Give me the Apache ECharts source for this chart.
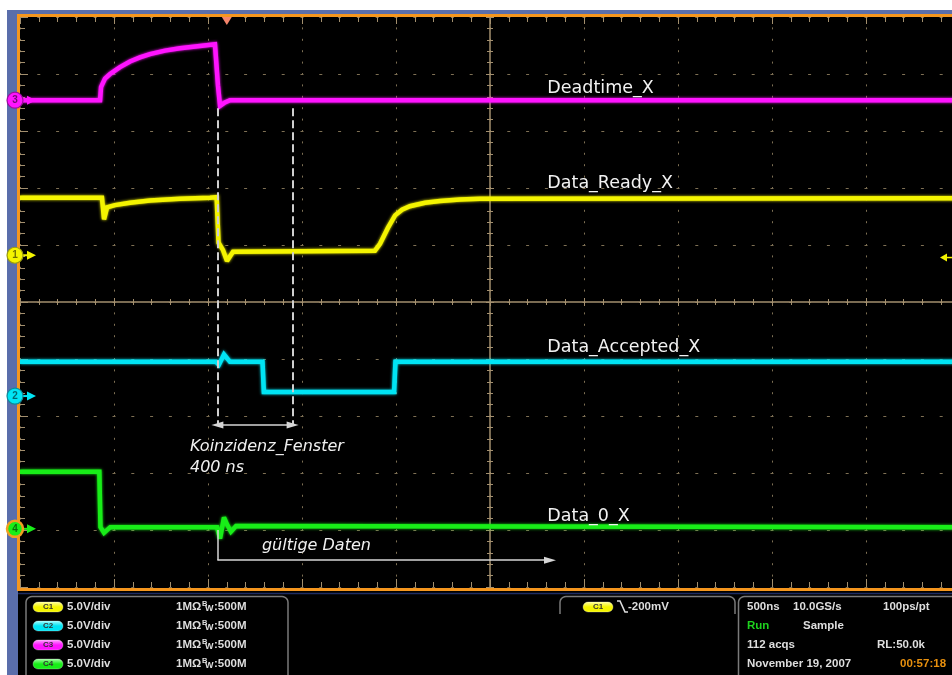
<!DOCTYPE html>
<html>
<head>
<meta charset="utf-8">
<script src="https://cdn.jsdelivr.net/npm/echarts@6/dist/echarts.min.js"></script>
<style>
  html, body { margin: 0; padding: 0; background: #fff; }
  #scope { width: 952px; height: 675px; }
</style>
</head>
<body>
<div id="scope"></div>
<script>
// Horizontal: ns from the left edge of the screen, 500 ns per division (10 divisions)
const timeMin = 0, timeMax = 5000, timePerDiv = 500;
// Vertical: screen divisions, centre line = 0
const divMin = -5, divMax = 5;

// C3  Deadtime_X
const deadtimeT = [0, 426, 431, 452, 479, 505, 532, 585, 638, 691, 771, 851, 957, 1037, 1046, 1053, 1064, 1090, 1117, 5000];
const deadtimeV = [3.54, 3.54, 3.77, 3.92, 4.00, 4.06, 4.12, 4.22, 4.29, 4.35, 4.41, 4.45, 4.49, 4.52, 4.52, 3.80, 3.44, 3.50, 3.54, 3.54];

// C1  Data_Ready_X
const readyT = [0, 436, 447, 463, 505, 585, 691, 851, 1011, 1046, 1056, 1080, 1101, 1133, 1888, 1915, 1957, 1995, 2032, 2074, 2154, 2234, 2340, 2447, 5000];
const readyV = [1.83, 1.83, 1.45, 1.66, 1.70, 1.74, 1.78, 1.81, 1.83, 1.84, 1.04, 0.91, 0.72, 0.88, 0.90, 1.02, 1.30, 1.52, 1.62, 1.68, 1.74, 1.77, 1.80, 1.81, 1.82];

// C2  Data_Accepted_X
const acceptedT = [0, 1043, 1058, 1085, 1117, 1290, 1297, 1990, 1997, 5000];
const acceptedV = [-1.05, -1.05, -1.10, -0.92, -1.05, -1.05, -1.58, -1.58, -1.05, -1.05];

// C4  Data_0_X
const data0T = [0, 422, 428, 447, 480, 1048, 1064, 1085, 1101, 1122, 1149, 5000];
const data0V = [-2.98, -2.98, -3.95, -4.05, -3.95, -3.95, -4.15, -3.78, -3.90, -4.03, -3.93, -3.95];

// Channel settings
const channelIds = ['C1', 'C2', 'C3', 'C4'];
const channelScales = ['5.0V/div', '5.0V/div', '5.0V/div', '5.0V/div'];
const channelGround = [0.82, -1.65, 3.54, -3.98];     // ground markers, divisions
const traceNames = ['Data_Ready_X', 'Data_Accepted_X', 'Deadtime_X', 'Data_0_X'];

// Trigger: C1 falling edge at -200 mV, 5 V/div
const triggerTime = 1100;
const triggerLevelDiv = channelGround[0] - 0.2 / 5;

// Coincidence window and valid-data marker
const windowStart = 1050;
const windowLength = 400;   // "400 ns"
const windowEnd = windowStart + windowLength;
const validDataEnd = 2819;

const colors = { C1: '#f4f400', C2: '#00e4f4', C3: '#ff14ff', C4: '#18ee18' };
const tan = '#a38f6e';
const dotTan = '#7e7054';

const pairs = (t, v) => t.map((x, i) => [x, v[i]]);

function xAxisCfg(extra) {
  return Object.assign({
    type: 'value', min: timeMin, max: timeMax, interval: timePerDiv,
    axisLabel: { show: false }, splitLine: { show: false },
    axisLine: { show: false, onZero: false },
    axisTick: { show: false }, minorTick: { show: false }
  }, extra);
}
function yAxisCfg(extra) {
  return Object.assign({
    type: 'value', min: divMin, max: divMax, interval: 1,
    axisLabel: { show: false }, splitLine: { show: false },
    axisLine: { show: false, onZero: false },
    axisTick: { show: false }, minorTick: { show: false }
  }, extra);
}
const tick = (len, inside) => ({ show: true, inside: inside, length: len, lineStyle: { color: tan, width: 1 } });
const minor = (len) => ({ show: true, splitNumber: 5, length: len, lineStyle: { color: tan, width: 1 } });

function trace(name, t, v, color) {
  return {
    name: name, type: 'line', data: pairs(t, v), xAxisIndex: 0, yAxisIndex: 0,
    showSymbol: false, symbol: 'none', animation: false, silent: true,
    lineStyle: { color: color, width: 4.5, shadowColor: color, shadowBlur: 3, join: 'miter', miterLimit: 2 }
  };
}

const arrowLine = { color: '#d6d6d6', width: 1.5, type: 'solid' };

const option = {
  backgroundColor: '#000',
  animation: false,
  grid: { left: 20, top: 17, width: 940, height: 570, containLabel: false, outerBoundsMode: 'none' },
  xAxis: [
    // bottom edge ticks + vertical dotted grid
    xAxisCfg({ position: 'bottom', axisTick: tick(8, true), minorTick: minor(5),
      splitLine: { show: true, lineStyle: { color: dotTan, width: 1, type: [2, 9.4], dashOffset: 1 } } }),
    // top edge ticks
    xAxisCfg({ position: 'top', axisTick: tick(7, true), minorTick: minor(5) }),
    // centre horizontal line with crossing ticks
    xAxisCfg({ position: 'bottom', offset: -285, axisLine: { show: true, onZero: false, lineStyle: { color: tan, width: 1.5 } },
      axisTick: tick(4, false), minorTick: minor(3) }),
    xAxisCfg({ position: 'bottom', offset: -285, axisTick: tick(4, true), minorTick: minor(3) })
  ],
  yAxis: [
    // left edge ticks + horizontal dotted grid
    yAxisCfg({ position: 'left', axisTick: tick(8, true), minorTick: minor(5),
      splitLine: { show: true, lineStyle: { color: dotTan, width: 1, type: [3, 15.8], dashOffset: 1.5 } } }),
    // centre vertical line with crossing ticks
    yAxisCfg({ position: 'left', offset: -470, axisLine: { show: true, onZero: false, lineStyle: { color: tan, width: 1.5 } },
      axisTick: tick(4, false), minorTick: minor(3) }),
    yAxisCfg({ position: 'left', offset: -470, axisTick: tick(4, true), minorTick: minor(3) })
  ],
  series: [
    trace('Deadtime_X', deadtimeT, deadtimeV, colors.C3),
    trace('Data_Ready_X', readyT, readyV, colors.C1),
    trace('Data_Accepted_X', acceptedT, acceptedV, colors.C2),
    trace('Data_0_X', data0T, data0V, colors.C4),
    {
      name: 'annotations', type: 'line', data: [], xAxisIndex: 0, yAxisIndex: 0, silent: true, animation: false,
      markLine: {
        silent: true, animation: false, symbol: ['none', 'none'],
        label: { show: false },
        lineStyle: { color: '#cfcfcf', width: 2, type: [8, 4] },
        data: [
          // coincidence window cursors
          [{ coord: [windowStart, 3.40] }, { coord: [windowStart, -2.16] }],
          [{ coord: [windowEnd, 3.40] }, { coord: [windowEnd, -2.16] }],
          // window width arrow
          [{ coord: [windowStart, -2.16], symbol: 'triangle', symbolSize: [7, 12], lineStyle: arrowLine },
           { coord: [windowEnd, -2.16], symbol: 'triangle', symbolSize: [7, 12] }],
          // valid data arrow
          [{ coord: [windowStart, -4.0], lineStyle: arrowLine }, { coord: [windowStart, -4.53] }],
          [{ coord: [windowStart, -4.53], lineStyle: arrowLine },
           { coord: [validDataEnd, -4.53], symbol: 'triangle', symbolSize: [7, 12] }]
        ]
      }
    }
  ]
};

const chart = echarts.init(document.getElementById('scope'), null, { renderer: 'canvas', width: 952, height: 675 });
chart.setOption(option);

const px = (t, v) => chart.convertToPixel({ seriesIndex: 0 }, [t, v]);
const g = [];
const txt = (text, x, y, fill, font) => g.push({
  type: 'text', z: 60, silent: true,
  style: { text: text, x: x, y: y, fill: fill, font: font, align: 'left', verticalAlign: 'middle' }
});

// Instrument frame
g.push({ type: 'rect', z: 50, silent: true, shape: { x: 0, y: 0, width: 952, height: 10 }, style: { fill: '#fff' } });
g.push({ type: 'rect', z: 50, silent: true, shape: { x: 0, y: 0, width: 7, height: 675 }, style: { fill: '#fff' } });
g.push({ type: 'rect', z: 50, silent: true, shape: { x: 7, y: 10, width: 945, height: 5 }, style: { fill: '#5a6eab' } });
g.push({ type: 'rect', z: 50, silent: true, shape: { x: 7, y: 10, width: 11, height: 665 }, style: { fill: '#5a6eab' } });
g.push({ type: 'rect', z: 51, silent: true, shape: { x: 18.5, y: 15.5, width: 950, height: 574 },
  style: { fill: null, stroke: '#f5961e', lineWidth: 3 } });
g.push({ type: 'line', z: 51, silent: true, shape: { x1: 18, y1: 593.5, x2: 952, y2: 593.5 }, style: { stroke: '#1e2c62', lineWidth: 1.5 } });

// Trace names
const labelTime = 2805;
const labelLevels = [2.08, -0.80, 3.75, -3.76];
traceNames.forEach((name, i) => {
  const p = px(labelTime, labelLevels[i]);
  txt(name, p[0], p[1], '#f2f2f2', '17.5px "DejaVu Sans"');
});

// Annotation texts
let p = px(904, -2.54);
txt('Koinzidenz_Fenster', p[0], p[1], '#f0f0f0', 'italic 16px "DejaVu Sans"');
p = px(904, -2.91);
txt('400 ns', p[0], p[1], '#f0f0f0', 'italic 16px "DejaVu Sans"');
p = px(1287, -4.28);
txt('gültige Daten', p[0], p[1], '#f0f0f0', 'italic 16px "DejaVu Sans"');

// Channel ground markers on the left edge
const markerColors = [colors.C1, colors.C2, colors.C3, colors.C4];
const markerRings = ['#9a9a10', '#108a98', '#9a109a', '#f0a020'];
channelGround.forEach((lvl, i) => {
  const y = px(0, lvl)[1];
  g.push({ type: 'line', z: 61, silent: true, shape: { x1: 20, y1: y, x2: 28, y2: y }, style: { stroke: markerColors[i], lineWidth: 2 } });
  g.push({ type: 'polygon', z: 61, silent: true, shape: { points: [[27, y - 4.5], [36, y], [27, y + 4.5]] }, style: { fill: markerColors[i] } });
  g.push({ type: 'circle', z: 62, silent: true, shape: { cx: 15, cy: y, r: 8 },
    style: { fill: markerColors[i], stroke: markerRings[i], lineWidth: i === 3 ? 2.5 : 1.2 } });
  g.push({ type: 'text', z: 63, silent: true,
    style: { text: channelIds[i].slice(1), x: 15, y: y, fill: 'rgba(0,0,0,0.55)', font: 'bold 10px "Liberation Sans"', align: 'center', verticalAlign: 'middle' } });
});

// Trigger position (top) and trigger level (right)
const tx = px(triggerTime, 0)[0];
g.push({ type: 'polygon', z: 61, silent: true, shape: { points: [[tx - 5, 17], [tx + 5, 17], [tx, 25]] }, style: { fill: '#f4846a' } });
const ty = px(0, triggerLevelDiv)[1];
g.push({ type: 'polygon', z: 61, silent: true, shape: { points: [[940, ty], [947, ty - 4], [947, ty + 4]] }, style: { fill: colors.C1 } });
g.push({ type: 'line', z: 61, silent: true, shape: { x1: 946, y1: ty, x2: 952, y2: ty }, style: { stroke: colors.C1, lineWidth: 1.5 } });

// Bottom information panels (open-bottom boxes with rounded top corners)
const boxStroke = '#7a7a7a';
function openBox(x1, x2, top, bottom) {
  const r = 6, pts = [[x1, bottom]];
  for (let k = 0; k <= 6; k++) {
    const a = Math.PI - (k / 6) * Math.PI / 2;
    pts.push([x1 + r + r * Math.cos(a), top + r - r * Math.sin(a)]);
  }
  for (let k = 0; k <= 6; k++) {
    const a = Math.PI / 2 - (k / 6) * Math.PI / 2;
    pts.push([x2 - r + r * Math.cos(a), top + r - r * Math.sin(a)]);
  }
  pts.push([x2, bottom]);
  g.push({ type: 'polyline', z: 55, silent: true, shape: { points: pts }, style: { fill: null, stroke: boxStroke, lineWidth: 1.5 } });
}
openBox(26, 288, 596.5, 690);
openBox(560, 735, 596.5, 614);
openBox(738.5, 975, 596.5, 690);

const infoFont = 'bold 11.5px "Liberation Sans"';
const infoColor = '#dedede';
const pillTop = ['#ffffa8', '#b0ffff', '#ffb0ff', '#b0ffb0'];
function pill(id, x, y, fillTop, fill) {
  g.push({ type: 'rect', z: 60, silent: true, shape: { x: x, y: y - 5, width: 30, height: 10, r: 5 },
    style: {
      fill: { type: 'linear', x: 0, y: 0, x2: 0, y2: 1,
        colorStops: [{ offset: 0, color: fillTop }, { offset: 0.5, color: fill }, { offset: 1, color: fill }] },
      stroke: 'rgba(255,255,255,0.35)', lineWidth: 0.8 } });
  g.push({ type: 'text', z: 61, silent: true, style: { text: id, x: x + 15, y: y, fill: '#333', font: 'bold 8px "Liberation Sans"', align: 'center', verticalAlign: 'middle' } });
}
const rowY = [607, 626, 645, 664];
channelIds.forEach((id, i) => {
  pill(id, 33, rowY[i], pillTop[i], markerColors[i]);
  txt(channelScales[i], 67, rowY[i], infoColor, infoFont);
  txt('1MΩ', 176, rowY[i], infoColor, infoFont);
  txt('B', 202, rowY[i] - 3, infoColor, 'bold 7.5px "Liberation Sans"');
  txt('W', 205, rowY[i] + 2, infoColor, 'bold 9px "Liberation Sans"');
  txt(':500M', 214, rowY[i], infoColor, infoFont);
});

// Trigger readout
pill('C1', 583, 607, pillTop[0], colors.C1);
g.push({ type: 'polyline', z: 61, silent: true, shape: { points: [[617, 601], [620, 601], [625, 612], [628, 612]] },
  style: { stroke: infoColor, lineWidth: 1.6, fill: null } });
txt('-200mV', 628, 607, infoColor, infoFont);

// Acquisition readout
txt('500ns', 747, 607, infoColor, infoFont);
txt('10.0GS/s', 793, 607, infoColor, infoFont);
txt('100ps/pt', 883, 607, infoColor, infoFont);
txt('Run', 747, 626, '#1ed21e', infoFont);
txt('Sample', 803, 626, infoColor, infoFont);
txt('112 acqs', 747, 645, infoColor, infoFont);
txt('RL:50.0k', 877, 645, infoColor, infoFont);
txt('November 19, 2007', 747, 664, infoColor, infoFont);
txt('00:57:18', 900, 664, '#e8900e', infoFont);

chart.setOption({ graphic: { elements: g } });
</script>
</body>
</html>
